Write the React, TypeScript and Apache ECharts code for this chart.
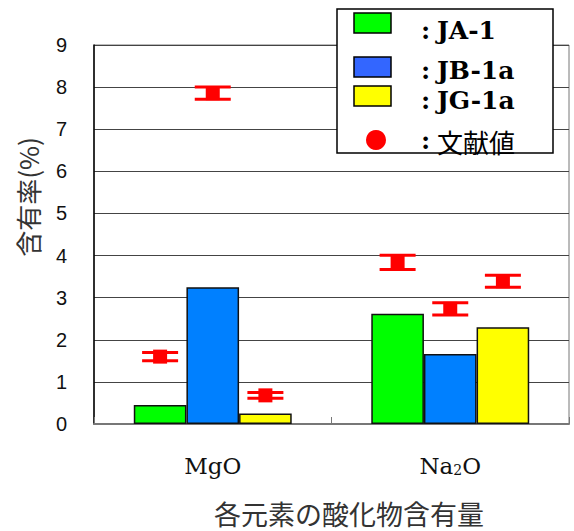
import React, { useEffect, useRef } from "react";
import * as echarts from "echarts";

// Oxide categories and sample names
const categories = ["MgO", "Na2O"];
const samples = ["JA-1", "JB-1a", "JG-1a"];

// Measured contents (%) per sample, ordered as categories
const measJA1 = [0.45, 2.62];
const measJB1a = [3.25, 1.66];
const measJG1a = [0.25, 2.3];

// Literature ranges (%) per sample: lower and upper ends
const refLowJA1 = [1.5, 3.67];
const refHighJA1 = [1.7, 4.01];
const refLowJB1a = [7.71, 2.59];
const refHighJB1a = [8.0, 2.88];
const refLowJG1a = [0.61, 3.25];
const refHighJG1a = [0.75, 3.53];

const yTicks = [0, 1, 2, 3, 4, 5, 6, 7, 8, 9];

const barColors = ["#00ff00", "#0080ff", "#ffff00"];
const swatchColors = ["#00ff00", "#3366ff", "#ffff00"];
const refColor = "#ff0000";
const refName = "文献値";

const CAT_GAP = 0.335;

export default function App() {
  const ref = useRef<HTMLDivElement>(null);

  useEffect(() => {
    if (!ref.current) return;
    const chart = echarts.init(ref.current, undefined, { renderer: "svg" });

    const measured = [measJA1, measJB1a, measJG1a];
    const lows = [refLowJA1, refLowJB1a, refLowJG1a];
    const highs = [refHighJA1, refHighJB1a, refHighJG1a];

    const refData: number[][] = [];
    categories.forEach((_, ci) => {
      samples.forEach((_, si) => {
        refData.push([ci, si, lows[si][ci], highs[si][ci]]);
      });
    });

    const serifFont = "'DejaVu Serif', 'Liberation Serif', serif";
    const cjkFont = "'Noto Sans CJK JP', sans-serif";

    // legend block drawn as graphic
    const legendRows = [
      { iconY: 13, textY: 30 },
      { iconY: 57, textY: 70 },
      { iconY: 86, textY: 100 },
      { iconY: 130, textY: 140 },
    ];
    const legendEls: any[] = [
      {
        type: "rect",
        shape: { x: 337, y: 9, width: 216, height: 144 },
        style: { fill: "#fff", stroke: "#000", lineWidth: 1.5 },
        z: 10,
      },
    ];
    samples.forEach((name, i) => {
      legendEls.push({
        type: "rect",
        shape: { x: 354, y: legendRows[i].iconY, width: 37, height: 20 },
        style: { fill: swatchColors[i], stroke: "#000", lineWidth: 1.5 },
        z: 11,
      });
      legendEls.push({
        type: "text",
        x: 421,
        y: legendRows[i].textY,
        style: {
          text: ":",
          font: `bold 25px ${serifFont}`,
          fill: "#000",
          verticalAlign: "middle",
        },
        z: 11,
      });
      legendEls.push({
        type: "text",
        x: 437,
        y: legendRows[i].textY,
        style: {
          text: name,
          font: `bold 25px ${serifFont}`,
          fill: "#000",
          verticalAlign: "middle",
        },
        z: 11,
      });
    });
    legendEls.push({
      type: "circle",
      shape: { cx: 376, cy: 140, r: 10 },
      style: { fill: refColor },
      z: 11,
    });
    legendEls.push({
      type: "text",
      x: 421,
      y: 140,
      style: { text: ":", font: `bold 25px ${serifFont}`, fill: "#000", verticalAlign: "middle" },
      z: 11,
    });
    legendEls.push({
      type: "text",
      x: 437,
      y: 141,
      style: { text: refName, font: `26px ${cjkFont}`, fill: "#000", verticalAlign: "middle" },
      z: 11,
    });

    chart.setOption({
      animation: false,
      backgroundColor: "#fff",
      grid: {
        left: 94,
        right: 5,
        top: 45,
        bottom: 107,
        show: true,
        borderColor: "#777",
        borderWidth: 1,
      },
      xAxis: {
        type: "category",
        data: categories,
        axisLine: { lineStyle: { color: "#777", width: 2 } },
        axisTick: { show: true, inside: true, length: 7, lineStyle: { color: "#777" } },
        axisLabel: {
          margin: 30,
          fontFamily: serifFont,
          fontSize: 23,
          color: "#111",
          formatter: (v: string) => (v === "Na2O" ? "Na{sub|2}O" : v),
          rich: {
            sub: { fontFamily: serifFont, fontSize: 14, color: "#111", verticalAlign: "bottom", padding: [8, 0, 0, 0] },
          },
        },
      },
      yAxis: {
        type: "value",
        min: yTicks[0],
        max: yTicks[yTicks.length - 1],
        interval: 1,
        axisLine: { show: true, lineStyle: { color: "#000", width: 1.5 } },
        axisTick: { show: false },
        splitLine: { lineStyle: { color: "#444", width: 1 } },
        axisLabel: {
          margin: 27,
          fontFamily: "'Liberation Sans', Arial, sans-serif",
          fontSize: 20,
          color: "#111",
          padding: [6, 0, 0, 0],
        },
      },
      series: [
        ...samples.map((name, i) => ({
          name,
          type: "bar",
          data: measured[i],
          barGap: "0%",
          barCategoryGap: `${CAT_GAP * 100}%`,
          itemStyle: { color: barColors[i], borderColor: "#111", borderWidth: 1.5 },
        })),
        {
          name: refName,
          type: "custom",
          data: refData,
          encode: { x: 0, y: [2, 3] },
          z: 5,
          renderItem: (params: any, api: any) => {
            const ci = api.value(0);
            const si = api.value(1);
            const lo = api.value(2);
            const hi = api.value(3);
            const catW = api.size([1, 0])[0];
            const bw = (catW * (1 - CAT_GAP)) / 3;
            const pLo = api.coord([ci, lo]);
            const pHi = api.coord([ci, hi]);
            const cx = pLo[0] + (si - 1) * bw;
            const capW = 36;
            const capH = 3;
            const stemW = 14;
            const span = pLo[1] - pHi[1];
            const stemH = Math.max(span, 14);
            const midY = (pLo[1] + pHi[1]) / 2;
            return {
              type: "group",
              children: [
                {
                  type: "rect",
                  shape: { x: cx - stemW / 2, y: midY - stemH / 2, width: stemW, height: stemH },
                  style: { fill: refColor },
                },
                {
                  type: "rect",
                  shape: { x: cx - capW / 2, y: pHi[1] - capH / 2, width: capW, height: capH },
                  style: { fill: refColor },
                },
                {
                  type: "rect",
                  shape: { x: cx - capW / 2, y: pLo[1] - capH / 2, width: capW, height: capH },
                  style: { fill: refColor },
                },
              ],
            };
          },
        },
      ],
      graphic: [
        {
          type: "text",
          x: 27,
          y: 197,
          rotation: Math.PI / 2,
          style: {
            text: "含有率(%)",
            font: `26px ${cjkFont}`,
            fill: "#333",
            align: "center",
            verticalAlign: "middle",
          },
        },
        {
          type: "text",
          x: 349,
          y: 513,
          style: {
            text: "各元素の酸化物含有量",
            font: `27px ${cjkFont}`,
            fill: "#333",
            align: "center",
            verticalAlign: "middle",
          },
        },
        ...legendEls,
      ],
    });

    return () => chart.dispose();
  }, []);

  return (
    <div
      ref={ref}
      style={{ position: "fixed", left: 0, top: 0, width: 574, height: 531 }}
    />
  );
}
